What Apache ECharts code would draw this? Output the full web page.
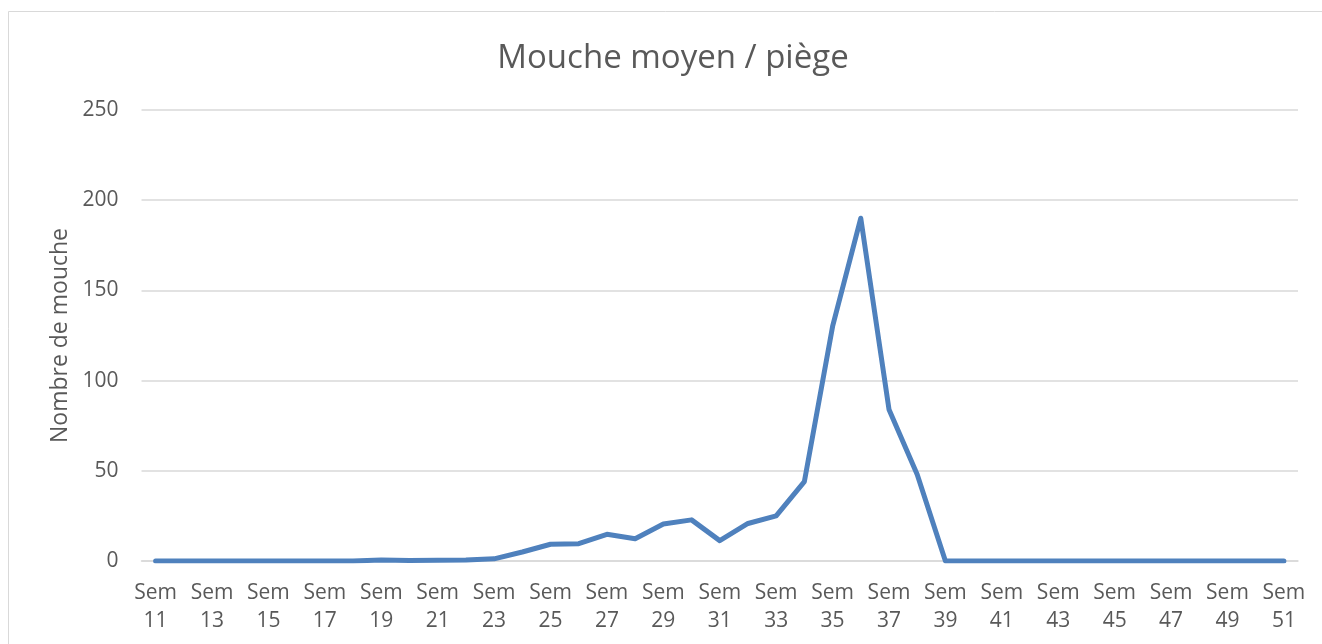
<!DOCTYPE html>
<html>
<head>
<meta charset="utf-8">
<script src="https://cdn.jsdelivr.net/npm/echarts@6/dist/echarts.min.js"></script>
<style>
html,body{margin:0;padding:0;background:#fff;}
#c{width:1322px;height:644px;}
</style>
</head>
<body>
<div id="c"></div>
<script>
const weeks = [11,12,13,14,15,16,17,18,19,20,21,22,23,24,25,26,27,28,29,30,31,32,33,34,35,36,37,38,39,40,41,42,43,44,45,46,47,48,49,50,51];
const categories = weeks.map(w => 'Sem\n' + w);
const values = [0,0,0,0,0,0,0,0,0.5,0.3,0.4,0.6,1.2,5,9.3,9.6,14.8,12.3,20.5,22.8,11.3,20.8,25,44,130,190,84,48,0,0,0,0,0,0,0,0,0,0,0,0,0];
const yTicks = [0,50,100,150,200,250];
const titleText = 'Mouche moyen / piège';
const yName = 'Nombre de mouche';

const chart = echarts.init(document.getElementById('c'), null, {renderer:'canvas'});
const font = 'Open Sans';
chart.setOption({
  animation:false,
  backgroundColor:'#fff',
  textStyle:{fontFamily:font},
  graphic:[{type:'rect',shape:{x:8.5,y:11.5,width:1340,height:700},style:{fill:'none',stroke:'#d9d9d9',lineWidth:1}}],
  title:{text:titleText,left:668,top:37,textAlign:'center',textStyle:{fontFamily:font,fontSize:33,fontWeight:'normal',color:'#595959'}},
  grid:{left:141.5,right:24,top:110,bottom:83},
  xAxis:{type:'category',data:categories,boundaryGap:true,
    axisLine:{lineStyle:{color:'#d9d9d9',width:1.5}},axisTick:{show:false},
    axisLabel:{interval:1,color:'#595959',fontSize:21,lineHeight:28,margin:18,fontFamily:font}},
  yAxis:{type:'value',min:0,max:250,interval:50,
    name:yName,nameLocation:'middle',nameGap:69,nameRotate:90,
    nameTextStyle:{color:'#595959',fontSize:23,fontFamily:font},
    axisLine:{show:false},axisTick:{show:false},
    axisLabel:{color:'#595959',fontSize:21,margin:23,fontFamily:font,
      formatter:v=>yTicks.includes(v)?String(v):''},
    splitLine:{lineStyle:{color:'#d9d9d9',width:1.5}}},
  series:[{type:'line',data:values,showSymbol:false,symbol:'none',
    lineStyle:{color:'#4f81bd',width:5,cap:'round',join:'round'},itemStyle:{color:'#4f81bd'}}]
});
</script>
</body>
</html>
